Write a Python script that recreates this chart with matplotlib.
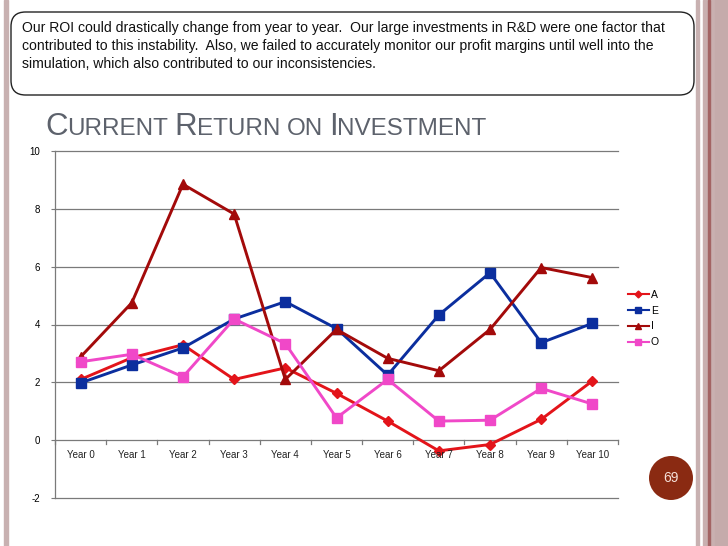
import matplotlib
matplotlib.use("Agg")
import matplotlib.pyplot as plt
from matplotlib.patches import FancyBboxPatch, Circle, Rectangle
from matplotlib.lines import Line2D

plt.rcParams["font.family"] = ["Liberation Sans", "DejaVu Sans"]
plt.rcParams["axes.unicode_minus"] = False

years = ["Year 0", "Year 1", "Year 2", "Year 3", "Year 4", "Year 5",
         "Year 6", "Year 7", "Year 8", "Year 9", "Year 10"]
roi_a = [2.1, 2.85, 3.3, 2.1, 2.5, 1.62, 0.66, -0.37, -0.15, 0.72, 2.05]
roi_e = [1.98, 2.6, 3.19, 4.19, 4.79, 3.86, 2.25, 4.33, 5.79, 3.37, 4.04]
roi_i = [2.88, 4.75, 8.85, 7.82, 2.1, 3.83, 2.83, 2.4, 3.83, 5.97, 5.62]
roi_o = [2.71, 2.97, 2.19, 4.19, 3.34, 0.77, 2.1, 0.66, 0.69, 1.79, 1.25]

W, H = 728, 546
fig = plt.figure(figsize=(W / 100, H / 100), dpi=100)

def px(x, y):
    return x / W, 1 - y / H

# slide borders
stripe = "#c8b1b1"
fig.patches.append(Rectangle(px(4, H), 4 / W, 1, transform=fig.transFigure, color=stripe))
fig.patches.append(Rectangle(px(696, H), 3 / W, 1, transform=fig.transFigure, color=stripe))
fig.patches.append(Rectangle(px(703, H), 25 / W, 1, transform=fig.transFigure, color="#c9b0b0"))
fig.patches.append(Rectangle(px(708, H), 2 / W, 1, transform=fig.transFigure, color="#a36464"))
fig.patches.append(Rectangle(px(715, H), 13 / W, 1, transform=fig.transFigure, color="#c5abab"))

# text box
x0, y0 = px(11, 95)
x1, y1 = px(694, 12)
fig.patches.append(FancyBboxPatch((x0, y0), x1 - x0, y1 - y0,
                                  boxstyle="round,pad=0,rounding_size=0.02",
                                  transform=fig.transFigure, fc="white",
                                  ec="#222222", lw=1.0, mutation_aspect=W / H))
lines = ["Our ROI could drastically change from year to year.  Our large investments in R&D were one factor that",
         "contributed to this instability.  Also, we failed to accurately monitor our profit margins until well into the",
         "simulation, which also contributed to our inconsistencies."]
for k, t in enumerate(lines):
    fig.text(*px(22, 28 + 18 * k), t, fontsize=10.1, va="center", ha="left", color="#111111")

# small-caps title
pieces = [("C", True), ("URRENT", False), (" ", None), ("R", True), ("ETURN", False),
          (" ", None), ("ON", False), (" ", None), ("I", True), ("NVESTMENT", False)]
big, small = 22.5, 17.5
renderer = fig.canvas.get_renderer()
xc = 45
for t, isbig in pieces:
    if isbig is None:
        xc += 6
        continue
    tx = fig.text(*px(xc, 135), t, fontsize=big if isbig else small,
                  va="baseline", ha="left", color="#5d626c")
    xc += tx.get_window_extent(renderer).width

# chart
ax = fig.add_axes([55 / W, 1 - 498 / H, 563 / W, 347 / H])
x = list(range(len(years)))
ax.plot(x, roi_a, color="#e3141a", lw=2.1, marker="D", ms=5.5, label="A")
ax.plot(x, roi_e, color="#0b2e9e", lw=2.1, marker="s", ms=7.5, label="E")
ax.plot(x, roi_i, color="#a30a0a", lw=2.1, marker="^", ms=7.5, label="I")
ax.plot(x, roi_o, color="#f048c8", lw=2.1, marker="s", ms=7.5, label="O")
ax.set_xlim(-0.5, 10.5)
ax.set_ylim(-2, 10)
for v in range(-2, 11, 2):
    ax.axhline(v, color="#7a7a7a", lw=0.9, zorder=0, clip_on=False)
for b in range(12):
    ax.plot([b - 0.5, b - 0.5], [0, -0.12], color="#7a7a7a", lw=0.9, clip_on=False)
for i, lab in enumerate(years):
    ax.text(i, -0.5, lab, ha="center", va="center", fontsize=7, color="#222222")
for s in ["top", "right", "bottom"]:
    ax.spines[s].set_visible(False)
ax.spines["left"].set_color("#7a7a7a")
ax.spines["left"].set_linewidth(0.9)
ax.set_xticks([])
ax.set_yticks(range(-2, 11, 2))
ax.tick_params(axis="y", length=3, color="#7a7a7a", labelsize=7, pad=8)
ax.patch.set_alpha(0)

handles = [Line2D([], [], color=l.get_color(), lw=1.5, marker=l.get_marker(),
                  ms=4 if l.get_marker() != "D" else 3.5) for l in ax.get_lines()[:4]]
fig.legend(handles, ["A", "E", "I", "O"], loc="upper left",
           bbox_to_anchor=px(628, 290), frameon=False, fontsize=7.5,
           handlelength=2.0, handletextpad=0.2, labelspacing=0.55,
           borderpad=0, borderaxespad=0)

# page number badge
badge = Circle((671 / 100, (H - 478) / 100), 0.22, transform=fig.dpi_scale_trans,
               fc="#8a2a12", ec="none")
fig.patches.append(badge)
fig.text(*px(671, 478), "69", ha="center", va="center", fontsize=10, color="#f5e0d8")

fig.savefig("out.png", dpi=100)
